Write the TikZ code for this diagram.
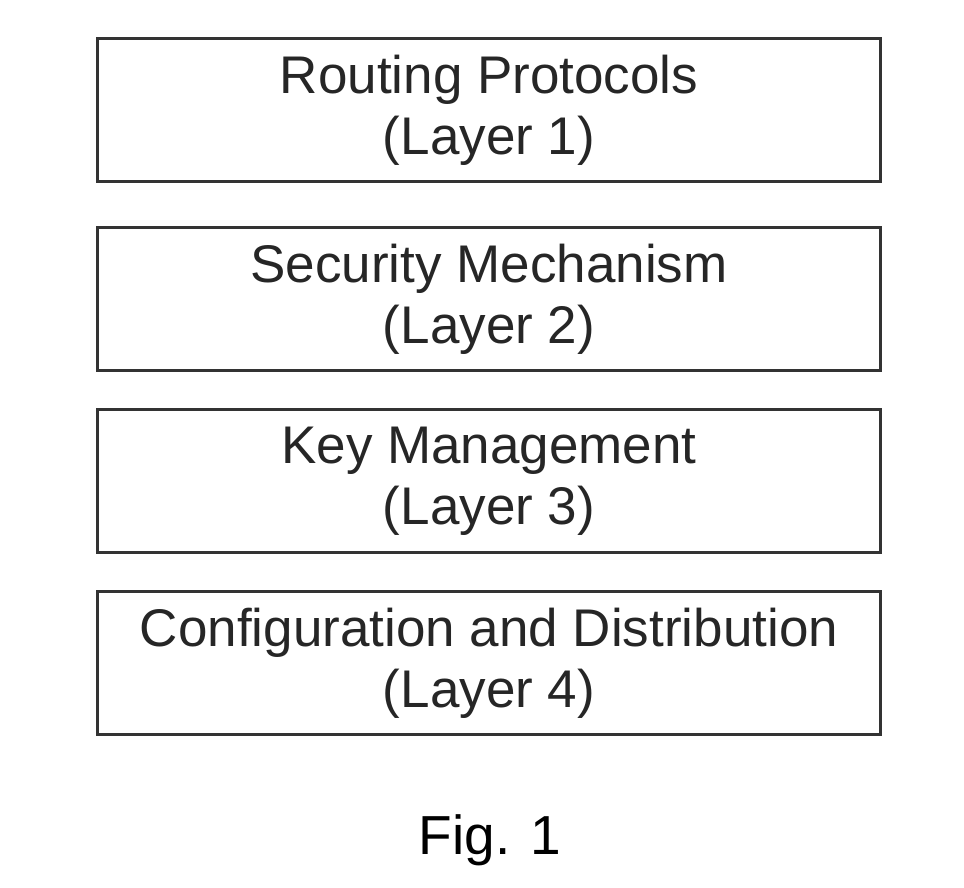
\documentclass[tikz,border=0pt]{standalone}
\usepackage{fontspec}
\setmainfont{Liberation Sans}
\begin{document}
\begin{tikzpicture}[x=1pt,y=-1pt,
  layerbox/.style={draw=black!80, line width=3pt, minimum width=783pt, minimum height=143pt,
    inner sep=0pt, align=center, text=black!85, font=\fontsize{53}{61}\selectfont},
  caption/.style={text=black, font=\fontsize{55}{60}\selectfont, inner sep=0pt}]
\useasboundingbox (0,0) rectangle (964,888);
\node[layerbox] (l1) at (489,110) {Routing Protocols\\(Layer 1)};
\node[layerbox] (l2) at (489,299) {Security Mechanism\\(Layer 2)};
\node[layerbox] (l3) at (489,481) {Key Management\\(Layer 3)};
\node[layerbox] (l4) at (489,663) {Configuration and Distribution\\(Layer 4)};
\node[caption] (fig) at (490,840) {Fig. 1};
\end{tikzpicture}
\end{document}
